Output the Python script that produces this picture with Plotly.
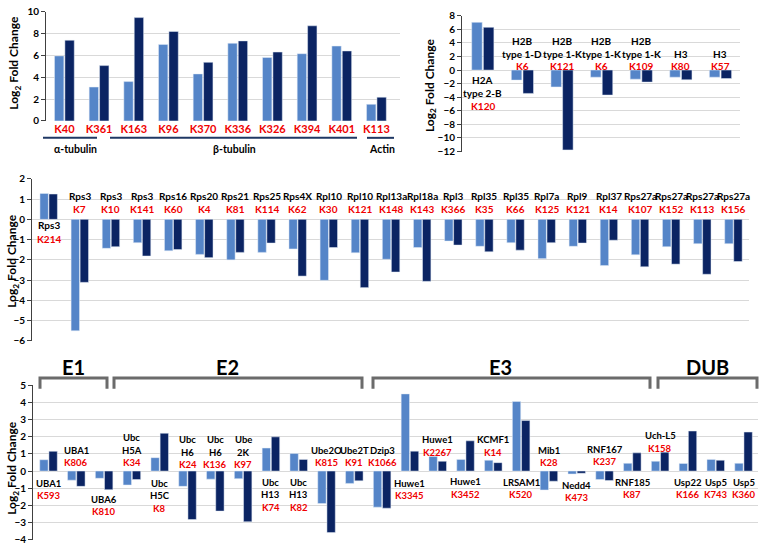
import plotly.graph_objects as go

W, H = 762, 550

# ---- data ----
tub_sites = ["K40", "K361", "K163", "K96", "K370", "K336", "K326", "K394", "K401", "K113"]
tub_light = [5.95, 3.1, 3.6, 7.0, 4.3, 7.1, 5.8, 6.15, 6.85, 1.52]
tub_dark = [7.38, 5.06, 9.45, 8.18, 5.36, 7.32, 6.3, 8.7, 6.4, 2.17]
tub_groups = ["α-tubulin", "β-tubulin", "Actin"]

hist_proteins = [["H2A", "type 2-B"], ["H2B", "type 1-D"], ["H2B", "type 1-K"],
                 ["H2B", "type 1-K"], ["H2B", "type 1-K"], ["H3"], ["H3"]]
hist_sites = ["K120", "K6", "K121", "K6", "K109", "K80", "K57"]
hist_light = [7.03, -1.48, -2.49, -1.05, -1.34, -1.05, -1.05]
hist_dark = [6.3, -3.44, -11.77, -3.68, -1.77, -1.43, -1.24]

ribo_proteins = ["Rps3", "Rps3", "Rps3", "Rps3", "Rps16", "Rps20", "Rps21", "Rps25",
                 "Rps4X", "Rpl10", "Rpl10", "Rpl13a", "Rpl18a", "Rpl3", "Rpl35",
                 "Rpl35", "Rpl7a", "Rpl9", "Rpl37", "Rps27a", "Rps27a", "Rps27a", "Rps27a"]
ribo_sites = ["K214", "K7", "K10", "K141", "K60", "K4", "K81", "K114", "K62", "K30",
              "K121", "K148", "K143", "K366", "K35", "K66", "K125", "K121", "K14",
              "K107", "K152", "K113", "K156"]
ribo_light = [1.28, -5.5, -1.43, -1.15, -1.55, -1.73, -2.0, -1.63, -1.46, -3.01, -1.65,
              -1.97, -1.39, -1.07, -1.33, -1.15, -1.94, -1.33, -2.28, -1.75, -1.35, -1.2, -1.2]
ribo_dark = [1.25, -3.11, -1.35, -1.81, -1.49, -1.89, -1.63, -1.17, -2.8, -1.39, -3.37,
             -2.6, -3.06, -1.27, -1.6, -1.52, -1.15, -1.17, -1.03, -2.34, -2.21, -2.71, -2.08]

ub_proteins = [["UBA1"], ["UBA1"], ["UBA6"], ["Ubc", "H5A"], ["Ubc", "H5C"], ["Ubc", "H6"],
               ["Ubc", "H6"], ["Ube", "2K"], ["Ubc", "H13"], ["Ubc", "H13"], ["Ube2O"],
               ["Ube2T"], ["Dzip3"], ["Huwe1"], ["Huwe1"], ["Huwe1"], ["KCMF1"], ["LRSAM1"],
               ["Mib1"], ["Nedd4"], ["RNF167"], ["RNF185"], ["Uch-L5"], ["Usp22"], ["Usp5"], ["Usp5"]]
ub_sites = ["K593", "K806", "K810", "K34", "K8", "K24", "K136", "K97", "K74", "K82", "K815",
            "K91", "K1066", "K3345", "K2267", "K3452", "K14", "K520", "K28", "K473", "K237",
            "K87", "K158", "K166", "K743", "K360"]
ub_light = [0.66, -0.53, -0.42, -0.81, 0.78, -0.89, -0.47, -0.44, 1.34, 1.02, -1.89, -0.72,
            -2.1, 4.49, 0.85, 0.68, 0.63, 4.05, -1.1, -0.17, -0.49, 0.45, 0.57, 0.44, 0.68, 0.45]
ub_dark = [1.15, -0.89, -1.08, -0.49, 2.2, -2.82, -2.33, -2.95, 1.99, 0.68, -3.58, -0.57,
           -2.16, 1.16, 0.57, 1.76, 0.49, 2.94, -0.59, -0.13, -0.55, 1.06, 1.1, 2.33, 0.63, 2.27]
ub_classes = ["E1", "E2", "E3", "DUB"]

# ---- styling ----
LIGHT = "#5585C8"
DARK = "#0B2463"
RED = "#F00000"
GRID = "#D9D9D9"
FONT = "Lato"


def px(x):
    return x / W


def py(y):
    return 1 - y / H


fig = go.Figure()


def add_pair(cats, light, dark, xa, ya, w, g):
    fig.add_trace(go.Bar(x=cats, y=light, marker_color=LIGHT, width=w, offset=-w - g / 2,
                         xaxis=xa, yaxis=ya, showlegend=False))
    fig.add_trace(go.Bar(x=cats, y=dark, marker_color=DARK, width=w, offset=g / 2,
                         xaxis=xa, yaxis=ya, showlegend=False))


def text_at(x, y, txt, size, color="black", xref="paper", angle=0):
    fig.add_annotation(x=x, xref=xref, y=py(y), yref="paper", text=f"<b>{txt}</b>",
                       showarrow=False, xanchor="center", yanchor="middle", textangle=angle,
                       font=dict(family=FONT, size=size, color=color))


def label(xref, x, lines, y_first, step=13, size=10):
    for i, (txt, col) in enumerate(lines):
        text_at(x, y_first + i * step, txt, size, col, xref=xref)


# top-left: tubulin / actin
add_pair(tub_sites, tub_light, tub_dark, "x", "y", 0.27, 0.03)

# top-right: histones
hist_cats = [" ".join(p) + " " + s for p, s in zip(hist_proteins, hist_sites)]
add_pair(hist_cats, hist_light, hist_dark, "x2", "y2", 0.265, 0.03)
zero_tr = 64.7
for c, p, s, v in zip(hist_cats, hist_proteins, hist_sites, hist_light):
    lines = [(t, "black") for t in p] + [(s, RED)]
    if v >= 0:
        label("x2", c, lines, zero_tr + 10.5)
    else:
        label("x2", c, lines, zero_tr - 4 - 13 * (len(lines) - 1))

# middle: ribosomal proteins
ribo_cats = [p + " " + s for p, s in zip(ribo_proteins, ribo_sites)]
add_pair(ribo_cats, ribo_light, ribo_dark, "x3", "y3", 0.27, 0.02)
zero_mid = 217.7
for c, p, s, v in zip(ribo_cats, ribo_proteins, ribo_sites, ribo_light):
    lines = [(p, "black"), (s, RED)]
    if v >= 0:
        label("x3", c, lines, zero_mid + 5.5, step=14)
    else:
        label("x3", c, lines, zero_mid - 24.5, step=14)

# bottom: ubiquitin system enzymes
ub_cats = [" ".join(p) + " " + s for p, s in zip(ub_proteins, ub_sites)]
add_pair(ub_cats, ub_light, ub_dark, "x4", "y4", 0.3, 0.03)
ub_label_y = [488, 454, 504, 441, 488, 443, 443, 443, 487, 487, 454, 454, 454, 488, 443,
              486, 443, 487, 454, 490, 453, 487, 439, 487, 487, 487]
for c, p, s, yy in zip(ub_cats, ub_proteins, ub_sites, ub_label_y):
    lines = [(t, "black") for t in p] + [(s, RED)]
    label("x4", c, lines, yy, step=12.8, size=9.5)

# group lines for top-left
for name, (a, b), cx in zip(tub_groups, [(43, 97), (110, 357), (367, 394)], [75, 234, 382]):
    fig.add_shape(type="line", xref="paper", yref="paper", x0=px(a), x1=px(b),
                  y0=py(134), y1=py(134), line=dict(color="#1F3864", width=2))
    text_at(px(cx), 145, name, 10.5)

# brackets for the bottom panel
for name, (a, b), cx in zip(ub_classes, [(40, 107), (114, 362), (373, 650), (658, 757)],
                            [73, 227, 500, 707]):
    fig.add_shape(type="path", xref="paper", yref="paper",
                  path=f"M {px(a)},{py(391)} L {px(a)},{py(380)} L {px(b)},{py(380)} L {px(b)},{py(391)}",
                  line=dict(color="#6B6B6B", width=3))
    text_at(px(cx), 369, name, 20)

# y-axis titles
for x, y in [(15, 57), (430, 80), (13, 260), (13, 472)]:
    text_at(px(x), y, "Log<sub>2</sub> Fold Change", 12, angle=-90)

tick_font = dict(family=FONT, size=10, color="black", weight="bold")


def yaxis(y0, y1, rng, dtick):
    return dict(domain=[py(y1), py(y0)], range=rng, dtick=dtick, showgrid=True,
                gridcolor=GRID, gridwidth=1, zeroline=False, showline=True,
                linecolor="#404040", linewidth=1, ticks="outside", ticklen=4,
                tickcolor="#404040", tickfont=tick_font, fixedrange=True)


def xaxis(x0, x1, rng, anchor, show=False):
    return dict(domain=[px(x0), px(x1)], range=rng, anchor=anchor, showgrid=False,
                zeroline=False, showline=False, ticks="", showticklabels=show,
                tickfont=dict(family=FONT, size=11, color=RED, weight="bold"))


fig.update_layout(
    width=W, height=H,
    margin=dict(l=0, r=0, t=0, b=0),
    paper_bgcolor="white", plot_bgcolor="white",
    barmode="overlay",
    showlegend=False,
    xaxis=xaxis(46, 400, [-0.53, 9.68], "y", show=True),
    yaxis=yaxis(4.7, 116.7, [0, 10], 2),
    xaxis2=xaxis(462, 740.3, [-0.525, 6.5], "y2"),
    yaxis2=yaxis(9, 148, [-12, 8], 2),
    xaxis3=xaxis(32, 749, [-0.536, 22.5], "y3"),
    yaxis3=yaxis(176, 342, [-6, 2], 1),
    xaxis4=xaxis(33, 758, [-0.558, 25.52], "y4"),
    yaxis4=yaxis(387.3, 545.7, [-4, 5], 1),
)
fig.update_layout(yaxis=dict(anchor="x"), yaxis2=dict(anchor="x2"),
                  yaxis3=dict(anchor="x3"), yaxis4=dict(anchor="x4"))

fig.write_html("out.html", config={"displayModeBar": False},
               post_script="document.body.style.margin='0';")
